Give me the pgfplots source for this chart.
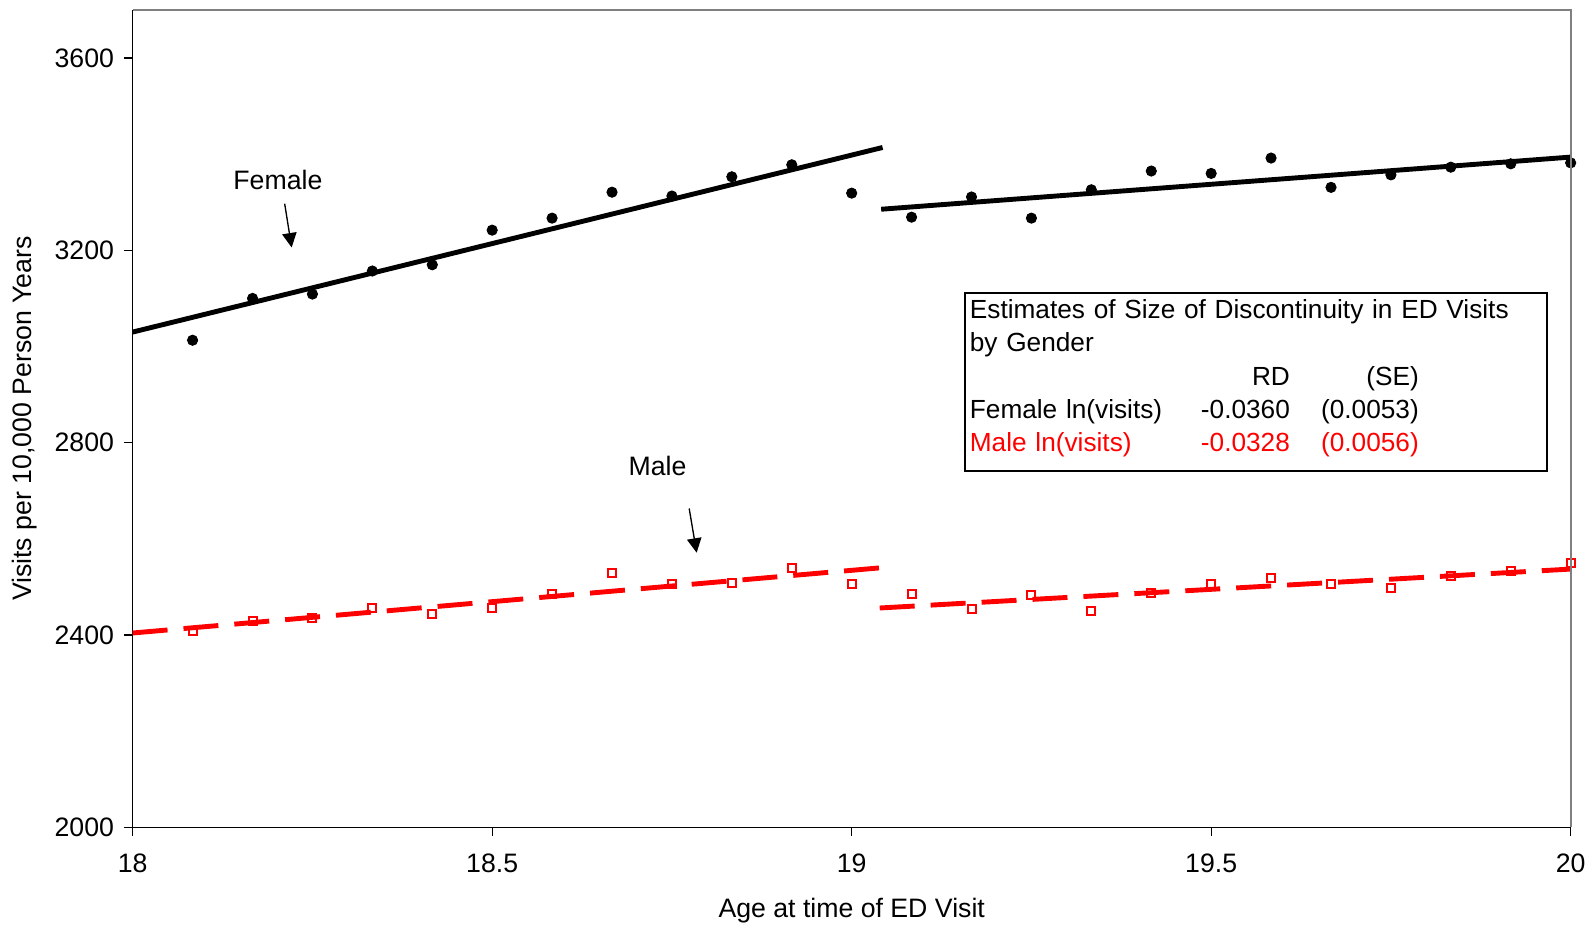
\documentclass[border=0pt]{standalone}
\usepackage{fontspec}
\setmainfont{Liberation Sans}
\usepackage{pgfplots}
\usepackage{pgfplotstable}
\pgfplotsset{compat=1.18}
\usetikzlibrary{arrows.meta}

\definecolor{exred}{RGB}{255,0,0}
\definecolor{framegray}{RGB}{128,128,128}

% monthly averages, ED visits per 10,000 person years
\pgfplotstableread{
age     visits
18.0833 3013
18.1667 3100
18.2500 3109
18.3333 3157
18.4167 3170
18.5000 3242
18.5833 3267
18.6667 3321
18.7500 3313
18.8333 3353
18.9167 3378
19.0000 3319
19.0833 3269
19.1667 3311
19.2500 3267
19.3333 3326
19.4167 3365
19.5000 3360
19.5833 3392
19.6667 3331
19.7500 3357
19.8333 3373
19.9167 3380
20.0000 3382
}\femaletable

\pgfplotstableread{
age     visits
18.0833 2408
18.1667 2429
18.2500 2435
18.3333 2455
18.4167 2444
18.5000 2455
18.5833 2486
18.6667 2528
18.7500 2505
18.8333 2508
18.9167 2540
19.0000 2506
19.0833 2485
19.1667 2453
19.2500 2483
19.3333 2449
19.4167 2488
19.5000 2505
19.5833 2519
19.6667 2506
19.7500 2497
19.8333 2523
19.9167 2533
20.0000 2550
}\maletable

\begin{document}
\begin{tikzpicture}[font=\fontsize{12}{15}\selectfont]
\begin{axis}[
  scale only axis,
  width=647pt, height=367.7pt,
  xmin=18, xmax=20, ymin=2000, ymax=3700,
  axis lines*=left,
  axis line style={black, line width=0.6pt},
  xtick={18,18.5,19,19.5,20},
  ytick={2000,2400,2800,3200,3600},
  tick align=outside,
  major tick length=3.9pt,
  tick style={black, line width=0.6pt},
  xticklabel style={yshift=-4.6pt},
  yticklabel style={xshift=-1pt},
  scaled y ticks=false,
  /pgf/number format/1000 sep={},
  /pgf/number format/assume math mode=true,
  xlabel={Age at time of ED Visit},
  ylabel={Visits per 10,000 Person Years},
  xlabel style={at={(axis description cs:0.5,-0.1025)}, anchor=center, inner sep=0pt},
  ylabel style={at={(axis description cs:-0.075,0.5)}, anchor=center, inner sep=0pt},
  clip=false,
]
\addplot[only marks, mark=*, mark size=2.3pt, black] table[x=age, y=visits] {\femaletable};
\addplot[only marks, mark=square, mark size=1.8pt, exred, line width=0.9pt] table[x=age, y=visits] {\maletable};

% fitted lines on each side of the 19th birthday
\addplot[black, line width=2.2pt] coordinates {(18,3030) (19.043,3414)};
\addplot[black, line width=2.2pt] coordinates {(19.041,3285.5) (20,3394)};
\addplot[exred, line width=2.2pt, dash pattern=on 15.75pt off 7.2pt] coordinates {(18,2404) (19.043,2540)};
\addplot[exred, line width=2.2pt, dash pattern=on 15.75pt off 7.2pt] coordinates {(19.039,2456) (20,2537)};

\node at (axis cs:18.202,3346) {Female};
\draw[-{Triangle[length=6.5pt,width=6.5pt]}, line width=0.6pt]
  (axis cs:18.2114,3297) -- (axis cs:18.2211,3206);
\node at (axis cs:18.730,2752) {Male};
\draw[-{Triangle[length=6.5pt,width=6.5pt]}, line width=0.6pt]
  (axis cs:18.774,2663) -- (axis cs:18.7844,2571);

% table of estimates
\draw[black, line width=0.9pt, fill=white]
  (axis cs:19.157,3111) rectangle (axis cs:19.9675,2741);
\node[anchor=north west, inner xsep=2.2pt, inner ysep=2.7pt, text width=256pt,
      align=left, font=\fontsize{11.8}{15}\selectfont]
  at (axis cs:19.157,3111) {%
  Estimates of Size of Discontinuity in ED Visits\\
  by Gender\\
  \makebox[144pt][r]{RD}\makebox[58pt][r]{(SE)}\\
  \makebox[144pt][l]{Female ln(visits)\hfill -0.0360}\makebox[58pt][r]{(0.0053)}\\
  \textcolor{exred}{\makebox[144pt][l]{Male ln(visits)\hfill -0.0328}\makebox[58pt][r]{(0.0056)}}};
\end{axis}
\draw[framegray, line width=0.9pt]
  (current axis.north west) -- (current axis.north east) -- (current axis.south east);
\path (current axis.south west) ++(-59.7pt,-44.1pt);
\path (current axis.north east) ++(10.5pt,4.5pt);
\end{tikzpicture}
\end{document}
